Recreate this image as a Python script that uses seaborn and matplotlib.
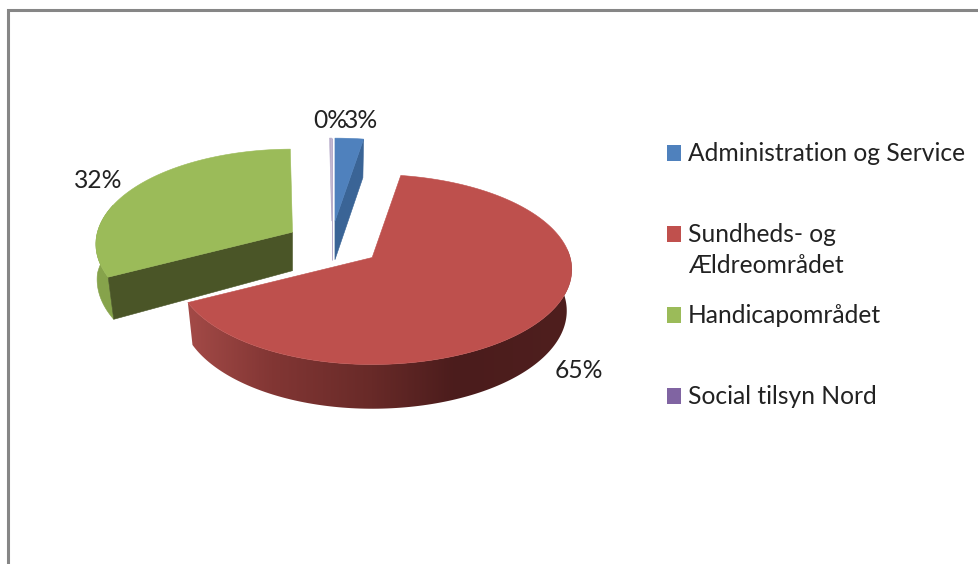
import numpy as np
import matplotlib
matplotlib.use("Agg")
import matplotlib.pyplot as plt
from matplotlib.colors import LinearSegmentedColormap
from matplotlib.patches import Polygon, Rectangle
import seaborn as sns

# ==== DATA ====
categories = ["Administration og Service", "Sundheds- og\nÆldreområdet",
              "Handicapområdet", "Social tilsyn Nord"]
shares = [2.6, 64.9, 32.3, 0.2]
top_colors = ["#4F81BD", "#BE504D", "#9BBB59", "#B9AECB"]
wall_colors = ["#3A6496", "#6E2C2B", "#4A5527", "#B9AECB"]
legend_colors = ["#4F81BD", "#C0504D", "#9BBB59", "#8064A2"]

# ==== LAYOUT (pixels) ====
CX, CY = 333, 244
RX, RY = 198, 93.5
RX_LEFT = 195
PERSP = 0.126
EXPLODE = 0.245
DEPTH = 41
nudge_x = [-2, 0, 1, -1]  # small per-slice correction

sns.set_theme(style="white")
plt.rcParams["font.family"] = ["Lato", "DejaVu Sans"]
sns.set_palette(legend_colors)

fig = plt.figure(figsize=(9.79, 5.64), dpi=100)
ax = fig.add_axes([0, 0, 1, 1])
ax.set_xlim(0, 979)
ax.set_ylim(564, 0)
ax.axis("off")


def project(theta, radius=1.0):
    # theta in radians, clockwise from the top of the pie
    w = 1 + PERSP * np.cos(theta)
    rx = np.where(np.sin(theta) < 0, RX_LEFT, RX)
    x = rx * radius * np.sin(theta) / w
    y = -RY * radius * np.cos(theta) / w
    return x, y


def lower(theta, radius=0.975):
    x, y = project(theta, radius)
    return x, y + DEPTH / (1 + PERSP * np.cos(theta))


def poly(pts, color, z):
    return ax.add_patch(Polygon(pts, closed=True, facecolor=color, edgecolor=color, lw=0.4, zorder=z))


red_ramp = LinearSegmentedColormap.from_list("red_wall", [
    (0.0, "#A34A47"), (0.22, "#823634"), (0.48, "#682A28"),
    (0.70, "#4B1C1C"), (1.0, "#4F1F1E")])

edges = np.cumsum([0] + shares) / 100 * 2 * np.pi

for i in [2, 3, 0, 1]:
    a, b = edges[i], edges[i + 1]
    mid = (a + b) / 2
    ox = CX + RX * EXPLODE * np.sin(mid) + nudge_x[i]
    oy = CY - RY * EXPLODE * np.cos(mid)
    thetas = np.linspace(a, b, 200)
    tx, ty = project(thetas)
    top = np.column_stack([ox + tx, oy + ty])
    apex = np.array([ox, oy])
    apex_low = apex + [0, DEPTH * 0.94]

    # inner faces that look towards the viewer
    if i in (0, 3):
        bx, by = lower(b)
        poly([apex, top[-1], [ox + bx, oy + by], apex_low], wall_colors[i], 2)
    if i == 2:
        ax_, ay_ = lower(a, 0.97)
        poly([apex, top[0], [ox + ax_, oy + ay_], apex_low], wall_colors[i], 2)

    # outer wall on the near side of the pie
    near = thetas[np.cos(thetas) < 0.3]
    if len(near) > 1:
        if i == 2:
            # wall runs out to the full radius at the left edge of the slice
            lx, ly = lower(near, np.interp(near, [a, 1.5 * np.pi], [0.97, 1.0]))
        else:
            lx, ly = lower(near)
        ux, uy = project(near)
        wall = np.vstack([np.column_stack([ox + ux, oy + uy]),
                          np.column_stack([ox + lx, oy + ly])[::-1]])
        if i == 1:
            # horizontal gradient clipped to the wall outline
            clip = Polygon(wall, closed=True, transform=ax.transData)
            grad = ax.imshow(np.linspace(0, 1, 400).reshape(1, -1), cmap=red_ramp,
                             extent=(187, 572, 420, 250), aspect="auto", zorder=1)
            grad.set_clip_path(clip)
            ax.set_xlim(0, 979)
            ax.set_ylim(564, 0)
        else:
            poly(wall, "#86A34B", 1)

    poly(np.vstack([apex, top]), top_colors[i], 3)

# ==== PERCENT LABELS ====
label_pos = [(361, 120), (579, 371), (98, 181), (330, 120)]
for share, (lx, ly) in zip(shares, label_pos):
    ax.text(lx, ly, f"{round(share)}%", ha="center", va="center",
            fontsize=17.7, color="#222222", zorder=5)

# ==== LEGEND ====
legend_y = [153, 234, 315, 396]
for name, color, y in zip(categories, legend_colors, legend_y):
    ax.add_patch(Rectangle((667, y - 8), 14.5, 15.5, facecolor=color, edgecolor="none"))
    ax.text(688, y - 11, name, ha="left", va="top", fontsize=17.7,
            color="#222222", linespacing=1.42)

# ==== FRAME ====
ax.plot([8.5, 8.5, 979], [564, 10, 10], color="#868686", lw=2.2, solid_joinstyle="miter")

fig.savefig("out.png", dpi=100)
